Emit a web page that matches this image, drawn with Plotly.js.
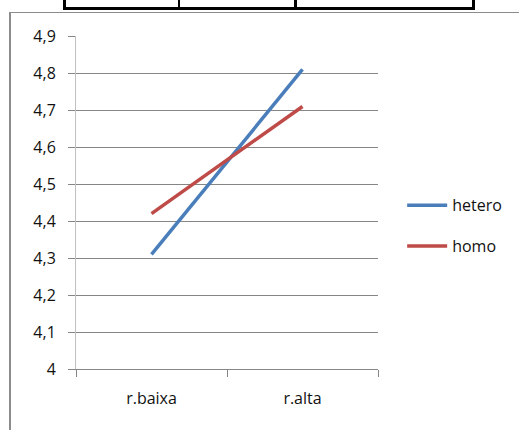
<!DOCTYPE html>
<html>
<head>
<meta charset="utf-8">
<script src="https://cdn.plot.ly/plotly-3.0.1.min.js"></script>
<style>
  html, body { margin: 0; padding: 0; background: #fff; }
  #wrap { position: relative; width: 519px; height: 430px; overflow: hidden; }
  #chart { position: absolute; left: 0; top: 0; width: 519px; height: 430px; }
  .deco { position: absolute; pointer-events: none; }
</style>
</head>
<body>
<div id="wrap">
  <div id="chart"></div>
  <!-- table fragment above the chart -->
  <div class="deco" style="left:63px; top:-5px; width:406px; height:12px; border:3px solid #000; border-top:none;"></div>
  <div class="deco" style="left:178px; top:0px; width:2px; height:10px; background:#000;"></div>
  <div class="deco" style="left:294px; top:0px; width:3px; height:10px; background:#000;"></div>
  <!-- chart area frame -->
  <div class="deco" style="left:9px; top:12px; width:520px; height:430px; border-left:2px solid #8c8c8c; border-top:1px solid #8c8c8c;"></div>
</div>
<script>
const categories = ['r.baixa', 'r.alta'];
const hetero = [4.31, 4.81];
const homo = [4.42, 4.71];
const yTickVals = [4, 4.1, 4.2, 4.3, 4.4, 4.5, 4.6, 4.7, 4.8, 4.9];
const yTickText = ['4', '4,1', '4,2', '4,3', '4,4', '4,5', '4,6', '4,7', '4,8', '4,9'];

const font = { family: '"Open Sans", Lato, sans-serif', size: 16, color: '#111111' };

const traces = [
  { x: categories, y: hetero, name: 'hetero', type: 'scatter', mode: 'lines', legendgroup: 'a',
    line: { color: '#4A7EBB', width: 3.5 } },
  { x: categories, y: homo, name: 'homo', type: 'scatter', mode: 'lines', legendgroup: 'b',
    line: { color: '#BE4B48', width: 3.5 } }
];

const layout = {
  width: 519, height: 430,
  margin: { l: 76, r: 141, t: 36, b: 61 },
  paper_bgcolor: '#fff', plot_bgcolor: '#fff',
  font: font,
  showlegend: true,
  legend: { x: 1.08, y: 0.43, xanchor: 'left', yanchor: 'middle',
            font: font, traceorder: 'grouped', tracegroupgap: 17, itemwidth: 40,
            bgcolor: 'rgba(0,0,0,0)' },
  xaxis: {
    type: 'category', range: [-0.5, 1.5],
    showgrid: false, zeroline: false,
    showline: true, linecolor: '#868686', linewidth: 1,
    ticks: 'outside', ticklen: 7, tickcolor: '#868686', tickson: 'boundaries',
    tickfont: font, ticklabelstandoff: 15, fixedrange: true
  },
  yaxis: {
    range: [4, 4.9005], tickvals: yTickVals, ticktext: yTickText,
    showgrid: true, gridcolor: '#868686', gridwidth: 1,
    zeroline: false,
    showline: true, linecolor: '#c0c0c0', linewidth: 1,
    ticks: 'outside', ticklen: 7, tickcolor: '#868686',
    tickfont: font, ticklabelstandoff: 9, fixedrange: true
  }
};

Plotly.newPlot('chart', traces, layout, { staticPlot: true, displayModeBar: false });
</script>
</body>
</html>
